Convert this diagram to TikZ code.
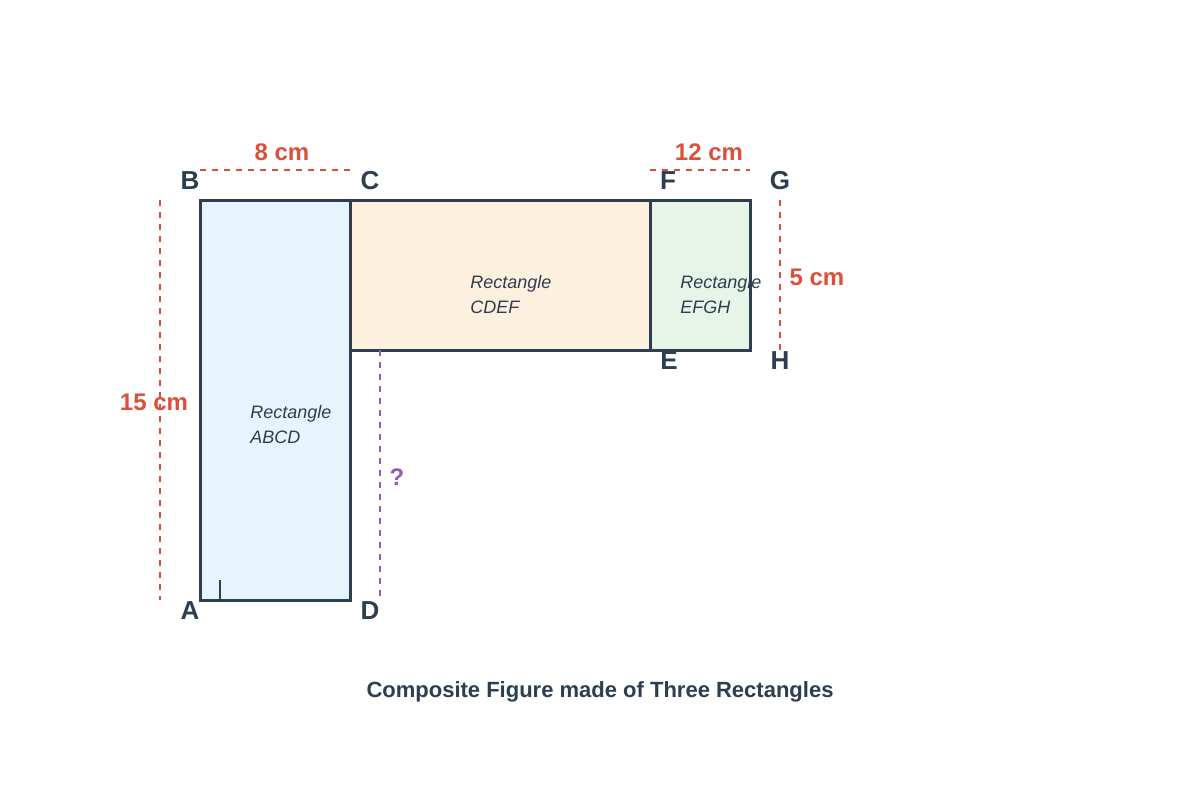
\documentclass[tikz,border=0pt]{standalone}
\usepackage{fontspec}
\setmainfont{Liberation Sans}
\usetikzlibrary{positioning}
\definecolor{edge}{HTML}{2C3E50}
\definecolor{dim}{HTML}{D9503C}
\definecolor{ask}{HTML}{9B59B6}
\definecolor{fillA}{HTML}{E8F4FD}
\definecolor{fillB}{HTML}{FEF0DF}
\definecolor{fillC}{HTML}{E7F4E8}
\tikzset{x=0.5pt, y=-0.5pt,
  rect/.style={draw=edge, line width=1.5pt},
  vertex/.style={font=\fontsize{13}{13}\selectfont\bfseries, text=edge, inner sep=0pt},
  measure/.style={draw=dim, dashed, line width=0.8pt},
  dimlabel/.style={font=\fontsize{12}{12}\selectfont\bfseries, text=dim, inner sep=0pt},
  rectname/.style={font=\fontsize{9}{12.5}\selectfont\itshape, text=edge, align=left, anchor=west, inner sep=0pt}}
\begin{document}
\begin{tikzpicture}
    \useasboundingbox (0,0) rectangle (1200,800);
    % corners
    \coordinate (A) at (200,600);
    \coordinate (B) at (200,200);
    \coordinate (C) at (350,200);
    \coordinate (D) at (350,600);
    \coordinate (E) at (650,350);
    \coordinate (F) at (650,200);
    \coordinate (G) at (750,200);
    \coordinate (H) at (750,350);

    \draw [rect, fill=fillA] (B) rectangle (D);
    \draw [rect, fill=fillB] (C) rectangle (E);
    \draw [rect, fill=fillC] (F) rectangle (H);
    \draw [edge, line width=1pt] (220,580) -- (220,600);

    \node [rectname] (nABCD) at (250,425) {Rectangle\\ABCD};
    \node [rectname] (nCDEF) at (470,295) {Rectangle\\CDEF};
    \node [rectname] (nEFGH) at (680,295) {Rectangle\\EFGH};

    \node [vertex] (lA) at (190,611) {A};
    \node [vertex] (lB) at (190,181) {B};
    \node [vertex] (lC) at (370,181) {C};
    \node [vertex] (lD) at (370,611) {D};
    \node [vertex] (lE) at (669,361) {E};
    \node [vertex] (lF) at (668,181) {F};
    \node [vertex] (lG) at (780,181) {G};
    \node [vertex] (lH) at (780,361) {H};

    % measures
    \coordinate (t1) at (200,170); \coordinate (t2) at (350,170);
    \coordinate (t3) at (650,170); \coordinate (t4) at (750,170);
    \coordinate (s1) at (160,200); \coordinate (s2) at (160,600);
    \coordinate (r1) at (780,200); \coordinate (r2) at (780,350);
    \coordinate (q1) at (380,350); \coordinate (q2) at (380,600);
    \draw [measure] (t1) -- (t2);
    \draw [measure] (t3) -- (t4);
    \draw [measure] (s1) -- (s2);
    \draw [measure] (r1) -- (r2);
    \draw [measure, draw=ask] (q1) -- (q2);

    \node [dimlabel] (w8) at (282,152) {8 cm};
    \node [dimlabel] (w12) at (709,152) {12 cm};
    \node [dimlabel] (h15) at (154,402) {15 cm};
    \node [dimlabel] (h5) at (817,277) {5 cm};
    \node [dimlabel, text=ask] (unknown) at (397,477) {?};

    \node [font=\fontsize{11}{11}\selectfont\bfseries, text=edge] (caption) at (600,692) {Composite Figure made of Three Rectangles};
\end{tikzpicture}
\end{document}
